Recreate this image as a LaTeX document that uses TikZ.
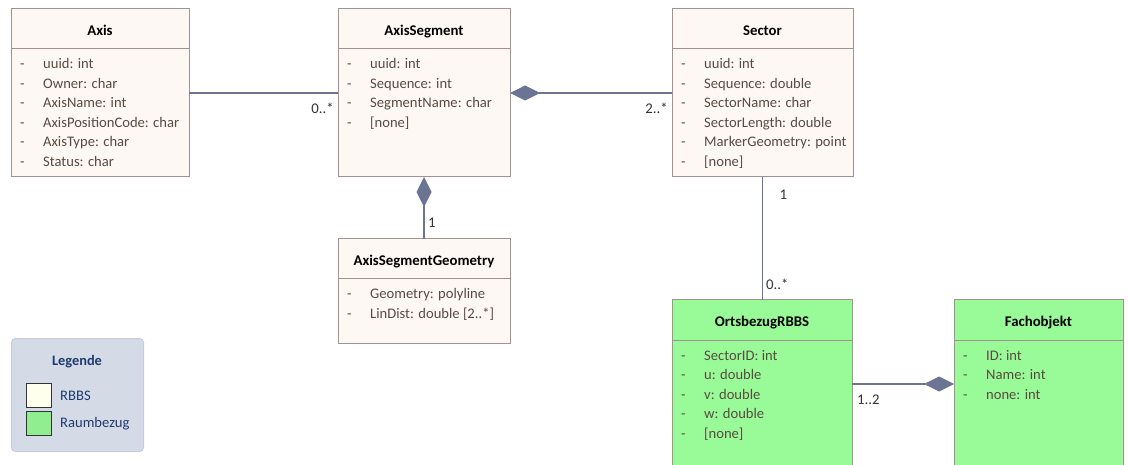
\documentclass[tikz,border=0pt]{standalone}
\usepackage{fontspec}
\setmainfont{Carlito}
\usetikzlibrary{arrows.meta,calc}

\definecolor{classfill}{HTML}{FDF8F4}
\definecolor{classborder}{HTML}{A39090}
\definecolor{greenfill}{HTML}{98FB98}
\definecolor{connector}{HTML}{6B7493}
\definecolor{attrtext}{HTML}{5A4A42}
\definecolor{multtext}{HTML}{333333}
\definecolor{legendfill}{HTML}{D5DAE7}
\definecolor{legendborder}{HTML}{C6CCDB}
\definecolor{legendtext}{HTML}{1F3B6E}
\definecolor{rbbsswatch}{HTML}{FFFFEE}
\definecolor{raumswatch}{HTML}{90EE90}

\tikzset{
  classbox/.style={draw=classborder, line width=1pt, inner sep=0pt, outer sep=0pt},
  classline/.style={draw=classborder, line width=1pt},
  classtitle/.style={font=\fontsize{14.8}{17}\selectfont\bfseries, text=black, inner sep=0pt},
  attr/.style={font=\fontsize{14.6}{17}\selectfont, text=attrtext, inner sep=0pt},
  mult/.style={font=\fontsize{14.8}{17}\selectfont, text=multtext, inner sep=0pt},
  assoc/.style={draw=connector, line width=1.2pt},
  comp/.style={assoc, -{Diamond[length=30pt, width=15pt, fill=connector]}},
  legendlabel/.style={font=\fontsize{14.6}{17}\selectfont, text=legendtext, inner sep=0pt},
  swatch/.style={draw=black!80, line width=1pt, inner sep=0pt, minimum width=25pt, minimum height=24pt, anchor=north west},
}

% class box: name, fill, left, top, right, bottom, title
\newcommand\umlclass[7]{%
  \node[classbox, fill=#2, minimum width={#5-#3}, minimum height={#6-#4}, anchor=north west] (#1) at (#3,#4) {};
  \draw[classline] ($(#1.north west)+(0,40)$) -- ($(#1.north east)+(0,40)$);
  \node[classtitle, anchor=base] (#1-title) at ($(#1.north)+(0,26.5)$) {#7};
}
% attribute list of a class box
\newcommand\umlattrs[2]{%
  \foreach \a [count=\i] in {#2} {
    \node[attr, anchor=base west] (#1-a\i) at ($(#1.north west)+(9,{60+(\i-1)*19.5})$) {\makebox[23pt][l]{-}\a};
  }%
}

\begin{document}
\begin{tikzpicture}[x=1pt, y=-1pt]
\useasboundingbox (0,0) rectangle (1128,465);
\clip (0,0) rectangle (1128,465);
\fill[white] (0,0) rectangle (1128,465);

\umlclass{axis}{classfill}{11}{9}{189}{177}{Axis}
\umlattrs{axis}{{uuid: int},{Owner: char},{AxisName: int},{AxisPositionCode: char},{AxisType: char},{Status: char}}

\umlclass{axisseg}{classfill}{338}{9}{510}{177}{AxisSegment}
\umlattrs{axisseg}{{uuid: int},{Sequence: int},{SegmentName: char},{[none]}}

\umlclass{sector}{classfill}{672}{9}{853}{177}{Sector}
\umlattrs{sector}{{uuid: int},{Sequence: double},{SectorName: char},{SectorLength: double},{MarkerGeometry: point},{[none]}}

\umlclass{geom}{classfill}{338}{239}{510}{343}{AxisSegmentGeometry}
\umlattrs{geom}{{Geometry: polyline},{LinDist: double [2..*]}}

\umlclass{orts}{greenfill}{672}{300}{852}{468}{OrtsbezugRBBS}
\umlattrs{orts}{{SectorID: int},{u: double},{v: double},{w: double},{[none]}}

\umlclass{fach}{greenfill}{954}{300}{1123}{468}{Fachobjekt}
\umlattrs{fach}{{ID: int},{Name: int},{none: int}}

% connectors
\draw[assoc] (axis) -- (axisseg);
\draw[comp] (sector) -- (axisseg);
\draw[comp] (geom) -- (axisseg);
\draw[assoc] (sector.south) -- (sector.south |- orts.north);
\draw[comp] (orts) -- (fach);

% multiplicities
\node[mult, anchor=east] (m1) at ($(axisseg.west)+(-4,15)$) {0..*};
\node[mult, anchor=east] (m2) at ($(sector.west)+(-4,15)$) {2..*};
\node[mult, anchor=west] (m3) at ($(geom.north)+(4,-16)$) {1};
\node[mult, anchor=west] (m4) at ($(sector.south)+(17,18)$) {1};
\node[mult, anchor=west] (m5) at ($(orts.north)+(4,-16)$) {0..*};
\node[mult, anchor=west] (m6) at ($(orts.east)+(5,16)$) {1..2};

% legend
\node[draw=legendborder, fill=legendfill, rounded corners=4pt, line width=1pt,
      minimum width=132pt, minimum height=113pt, anchor=north west, inner sep=0pt] (legend) at (11,338) {};
\node[legendlabel, font=\fontsize{14.4}{17}\selectfont\bfseries, anchor=center] (legend-title) at (77,362) {Legende};
\node[swatch, fill=rbbsswatch] (sw1) at (26,383) {};
\node[swatch, fill=raumswatch] (sw2) at (26,411) {};
\node[legendlabel, anchor=west] (sw1-label) at ($(sw1.east)+(8,0)$) {RBBS};
\node[legendlabel, anchor=west] (sw2-label) at ($(sw2.east)+(8,0)$) {Raumbezug};
\end{tikzpicture}
\end{document}
